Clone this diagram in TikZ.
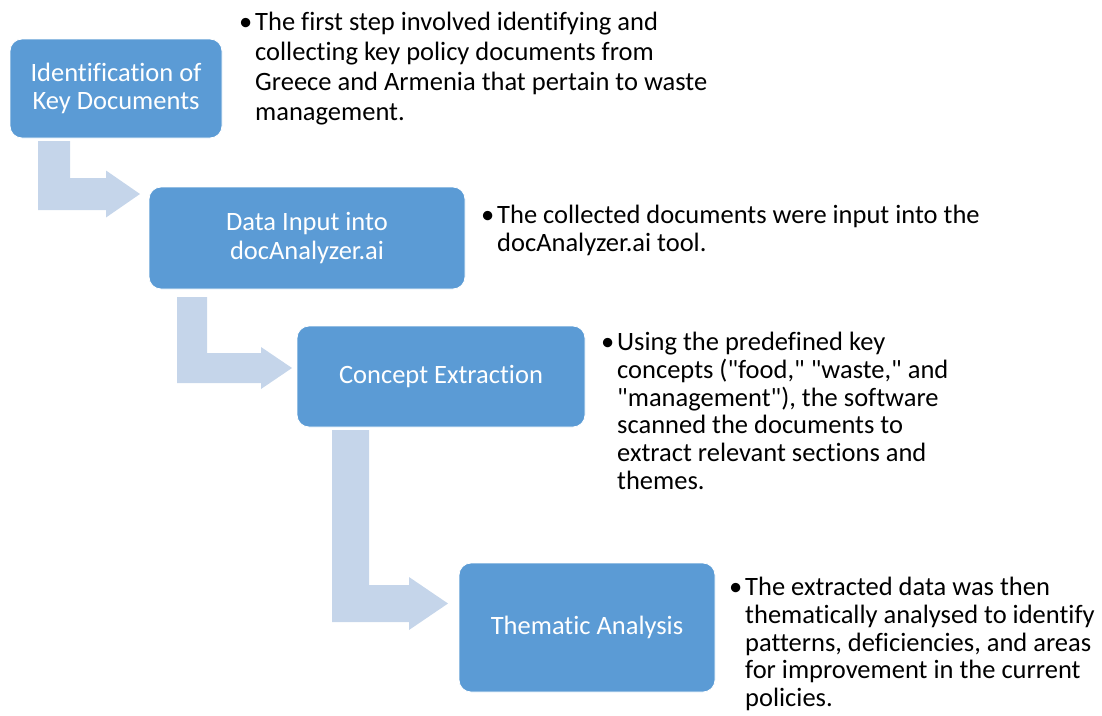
\documentclass[tikz,border=0pt]{standalone}
\usepackage{fontspec}
\setmainfont{Carlito}[Ligatures=NoCommon]

\definecolor{stepblue}{HTML}{5B9BD5}
\definecolor{arrowblue}{HTML}{C5D5EA}

\tikzset{
    stepbox/.style={rectangle, rounded corners=12pt, fill=stepblue, draw=white,
        line width=0.8pt, text=white, align=center, inner sep=0pt,
        font=\fontsize{26.5}{28.5}\selectfont},
    note/.style={anchor=north west, align=left, inner sep=0pt,
        font=\fontsize{26.5}{27.7}\selectfont},
}

% bent block arrow: left x, top y, bar width, bottom y, head x, tip x, head half height
\newcommand{\bendarrow}[7]{
    \fill[arrowblue] (#1,#2) -- ({#1+#3},#2) -- ({#1+#3},{#4-#3}) -- (#5,{#4-#3})
        -- (#5,{#4-#3/2-#7}) -- (#6,{#4-#3/2}) -- (#5,{#4-#3/2+#7}) -- (#5,#4)
        -- (#1,#4) -- cycle;
}
\newcommand{\qq}{\textquotedbl}

\begin{document}
\begin{tikzpicture}[x=1pt, y=-1pt]
    \useasboundingbox (0,0) rectangle (1102,715);

    \bendarrow{38}{141}{32}{210}{106}{140}{23.5}
    \bendarrow{177}{297}{30}{383}{261}{292}{21}
    \bendarrow{332}{430}{37}{622}{409}{448}{26.5}

    \node[stepbox, minimum width=212pt, minimum height=99pt] (ident) at (116,88.5)
        {Identification of\\Key Documents};
    \node[stepbox, minimum width=316pt, minimum height=102pt] (input) at (307,238)
        {Data Input into\\docAnalyzer.ai};
    \node[stepbox, minimum width=288pt, minimum height=101pt] (concept) at (441,376.5)
        {Concept Extraction};
    \node[stepbox, minimum width=256pt, minimum height=129pt] (thematic) at (587,627.5)
        {Thematic Analysis};

    \node[note, font=\fontsize{26.5}{30}\selectfont] (identnote) at (255,12)
        {\llap{\textbullet\hspace{3pt}}The first step involved identifying and\\
         collecting key policy documents from\\
         Greece and Armenia that pertain to waste\\
         management.};
    \node[note] (inputnote) at (497,205)
        {\llap{\textbullet\hspace{3pt}}The collected documents were input into the\\
         docAnalyzer.ai tool.};
    \node[note] (conceptnote) at (617,332)
        {\llap{\textbullet\hspace{3pt}}Using the predefined key\\
         concepts (\qq food,\qq{} \qq waste,\qq{} and\\
         \qq management\qq), the software\\
         scanned the documents to\\
         extract relevant sections and\\
         themes.};
    \node[note] (thematicnote) at (745,577)
        {\llap{\textbullet\hspace{3pt}}The extracted data was then\\
         thematically analysed to identify\\
         patterns, deficiencies, and areas\\
         for improvement in the current\\
         policies.};
\end{tikzpicture}
\end{document}
